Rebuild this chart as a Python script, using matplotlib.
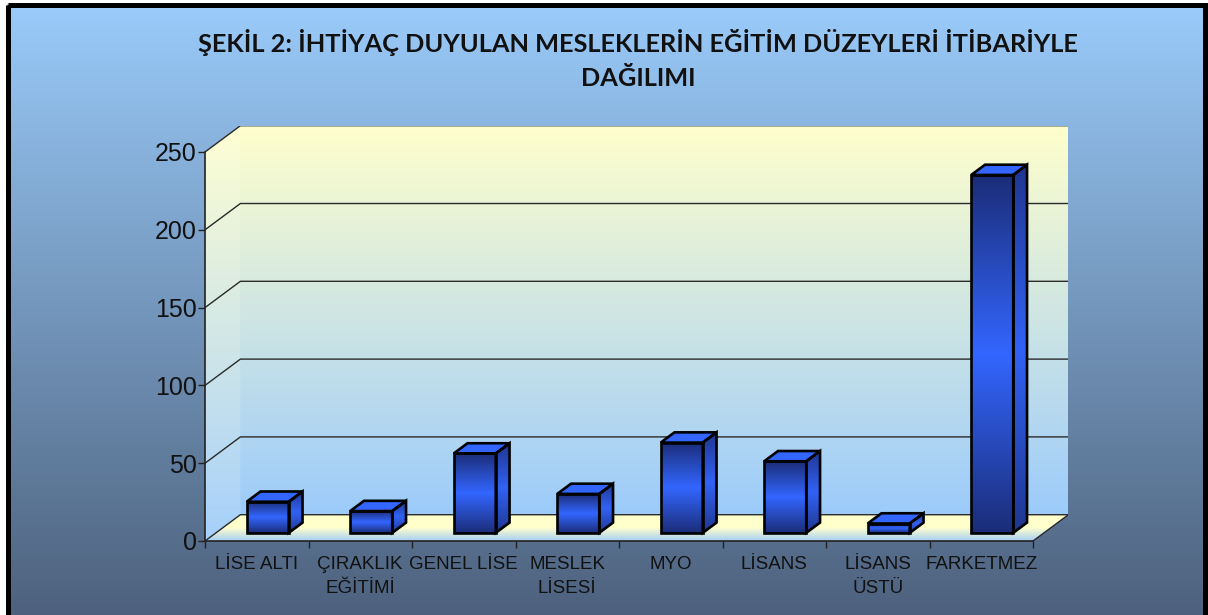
import numpy as np
import matplotlib
matplotlib.use("Agg")
import matplotlib.pyplot as plt
from matplotlib.colors import LinearSegmentedColormap
from matplotlib.patches import Polygon, Rectangle

plt.rcParams['font.family'] = ['Liberation Sans', 'DejaVu Sans']

# data
categories = ["LİSE ALTI", "ÇIRAKLIK\nEĞİTİMİ", "GENEL LİSE", "MESLEK\nLİSESİ",
              "MYO", "LİSANS", "LİSANS\nÜSTÜ", "FARKETMEZ"]
values = [20, 14, 51, 25, 58, 46, 6, 230]
yticks = [0, 50, 100, 150, 200, 250]
title1 = "ŞEKİL 2: İHTİYAÇ DUYULAN MESLEKLERİN EĞİTİM DÜZEYLERİ İTİBARİYLE"
title2 = "DAĞILIMI"

# 3d look: depth offset in data units
DX, DY = 0.342, 16.9
YMAX = 250
BW = 0.406          # bar width
F0, FD = 0.31, 0.39  # bar front position / bar depth (fraction of DX, DY)

W, H = 1208, 615
fig = plt.figure(figsize=(W / 100, H / 100), dpi=100)
fig.patch.set_facecolor("white")

# background gradient + black frame
bg = fig.add_axes([0, 0, 1, 1])
bg.axis("off")
bg_cmap = LinearSegmentedColormap.from_list("bg", ["#9acbfa", "#4a5d78"])
bg.imshow(np.linspace(0, 1, 256).reshape(-1, 1), cmap=bg_cmap, aspect="auto",
          extent=[7, 1205, 640, 4], origin="upper", zorder=0)
bg.add_patch(Rectangle((7.5, 4.5), 1197, 640, fill=False, lw=3.6,
                       ec="black", zorder=2))
bg.set_xlim(0, W)
bg.set_ylim(H, 0)

tfont = dict(ha="center", va="center", fontsize=18.3, fontweight="bold",
             family=["Lato", "DejaVu Sans"], color="#111111")
fig.text(638 / W, 1 - 42 / H, title1, **tfont)
fig.text(638 / W, 1 - 78 / H, title2, **tfont)

# main axes, placed so the front plane maps 0..250 / category edges
n = len(values)
px_cat = 103.5
px_val = 389 / YMAX
ax_left, ax_bottom = 205, 541
ax_w = (n + DX) * px_cat
ax_h = (YMAX + DY) * px_val
ax = fig.add_axes([ax_left / W, (H - ax_bottom) / H, ax_w / W, ax_h / H])
ax.patch.set_visible(False)


def grad_poly(pts, cmap, extent, z):
    p = Polygon(pts, closed=True, fc="none", ec="none", zorder=z)
    ax.add_patch(p)
    im = ax.imshow(np.linspace(0, 1, 256).reshape(-1, 1), cmap=cmap,
                   aspect="auto", extent=extent, origin="lower", zorder=z)
    im.set_clip_path(p)


x0, x1 = -0.5, n - 0.5
wall_cmap = LinearSegmentedColormap.from_list("wall", ["#9ccbfb", "#ffffcc"])
side_cmap = LinearSegmentedColormap.from_list("side", ["#a6d0fb", "#ffffd2"])
floor_cmap = LinearSegmentedColormap.from_list("floor", ["#a6cff6", "#ffffcc", "#ffffcc"])

grad_poly([(x0 + DX, DY), (x1 + DX, DY), (x1 + DX, YMAX + DY), (x0 + DX, YMAX + DY)],
          wall_cmap, [x0 + DX, x1 + DX, DY, YMAX + DY], 0.5)
grad_poly([(x0, 0), (x0 + DX, DY), (x0 + DX, YMAX + DY), (x0, YMAX)],
          side_cmap, [x0, x0 + DX, 0, YMAX + DY], 0.5)
grad_poly([(x0, 0), (x1, 0), (x1 + DX, DY), (x0 + DX, DY)],
          floor_cmap, [x0, x1 + DX, 0, DY], 0.6)

# gridlines on walls
for v in yticks:
    ax.plot([x0, x0 + DX, x1 + DX], [v, v + DY, v + DY], color="#2a2a2a",
            lw=1.0, zorder=1, solid_capstyle="butt")
ax.plot([x1, x1 + DX], [0, DY], color="#2a2a2a", lw=1.0, zorder=1)

# bars
front_cmap = LinearSegmentedColormap.from_list("front", ["#1b2d78", "#3366ff", "#1b2d78"])
sidef_cmap = LinearSegmentedColormap.from_list("sidef", ["#1f3690", "#3262f4", "#1f3690"])
for i, v in enumerate(values):
    xl = i - BW / 2 + F0 * DX
    xr = i + BW / 2 + F0 * DX
    yb = F0 * DY
    yt = yb + v
    ddx, ddy = FD * DX, FD * DY
    front = [(xl, yb), (xr, yb), (xr, yt), (xl, yt)]
    side = [(xr, yb), (xr + ddx, yb + ddy), (xr + ddx, yt + ddy), (xr, yt)]
    top = [(xl, yt), (xr, yt), (xr + ddx, yt + ddy), (xl + ddx, yt + ddy)]
    grad_poly(front, front_cmap, [xl, xr, yb, yt], 3)
    grad_poly(side, sidef_cmap, [xr, xr + ddx, yb, yt + ddy], 3)
    ax.add_patch(Polygon(top, closed=True, fc="#3366ff", ec="none", zorder=3))
    for pts in (front, side, top):
        ax.add_patch(Polygon(pts, closed=True, fc="none", ec="black",
                             lw=1.9, joinstyle="miter", zorder=4))

# axes, ticks and labels
for s in ("top", "right"):
    ax.spines[s].set_visible(False)
for s in ("left", "bottom"):
    ax.spines[s].set_color("#222222")
    ax.spines[s].set_linewidth(1.2)
    ax.spines[s].set_zorder(5)
ax.spines["left"].set_bounds(0, YMAX)
ax.spines["bottom"].set_bounds(x0, x1)

ax.set_yticks(yticks)
ax.tick_params(axis="y", direction="out", length=5, width=1, color="#222222",
               labelsize=18, pad=1, labelcolor="#111111")
ax.set_xticks(np.arange(n))
ax.set_xticklabels(categories)
ax.set_xticks(np.arange(n + 1) - 0.5, minor=True)
ax.tick_params(axis="x", which="major", length=0, labelsize=13.5, pad=11,
               labelcolor="#111111")
ax.tick_params(axis="x", which="minor", direction="out", length=5, width=1,
               color="#222222")
for lab in ax.get_xticklabels():
    lab.set_linespacing(1.5)

ax.set_xlim(x0, x1 + DX)
ax.set_ylim(0, YMAX + DY)

fig.savefig("out.png", dpi=100)
